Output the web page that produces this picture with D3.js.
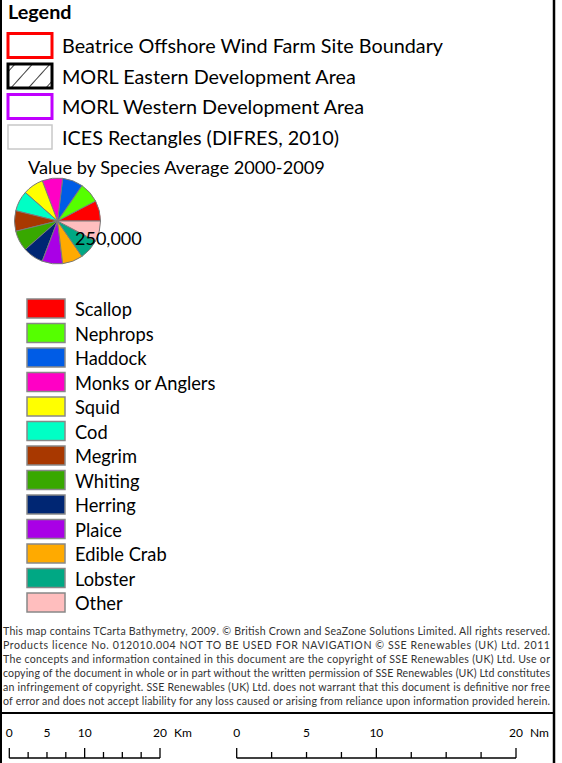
<!DOCTYPE html>
<html><head><meta charset="utf-8">
<script src="https://cdn.jsdelivr.net/npm/d3@7"></script>
<style>body{margin:0;background:#fff}svg{display:block}</style>
</head><body>
<svg id="c" width="562" height="763"></svg>
<script>
// ---- data ----
const legendTitle = "Legend";
const layerLabels = [
  "Beatrice Offshore Wind Farm Site Boundary",
  "MORL Eastern Development Area",
  "MORL Western Development Area",
  "ICES Rectangles (DIFRES, 2010)"
];
const pieTitle = "Value by Species Average 2000-2009";
const pieSizeLabel = "250,000";
const species = ["Scallop","Nephrops","Haddock","Monks or Anglers","Squid","Cod","Megrim","Whiting","Herring","Plaice","Edible Crab","Lobster","Other"];
const speciesShare = [1,1,1,1,1,1,1,1,1,1,1,1,1];
const speciesColors = ["#ff0000","#55ff00","#005ce6","#ff00c5","#ffff00","#00ffc5","#a83800","#38a800","#002673","#a900e6","#ffaa00","#00a884","#ffbebe"];
const scaleTicks = [0,2.5,5,7.5,10,12.5,15,17.5,20];
const scaleLabels = [0,5,10,20];
const scaleUnits = ["Km","Nm"];
const disclaimerLines = [
  "This map contains TCarta Bathymetry, 2009. \u00a9 British Crown and SeaZone Solutions Limited. All rights reserved.",
  "Products licence No. 012010.004 NOT TO BE USED FOR NAVIGATION \u00a9 SSE Renewables (UK) Ltd. 2011",
  "The concepts and information contained in this document are the copyright of SSE Renewables (UK) Ltd.  Use or",
  "copying of the document in whole or in part without the written permission of SSE Renewables (UK) Ltd constitutes",
  "an infringement of copyright.  SSE Renewables (UK) Ltd. does not warrant that this document is definitive nor free",
  "of error and does not accept liability for any loss caused or arising from reliance upon information provided herein."
];

// ---- drawing ----
const FONT = "Lato, 'Open Sans', sans-serif";
const svg = d3.select("#c");
svg.append("rect").attr("width",562).attr("height",763).attr("fill","#fff");

const defs = svg.append("defs");
const pat = defs.append("pattern").attr("id","hatch").attr("patternUnits","userSpaceOnUse")
  .attr("width",13).attr("height",13).attr("patternTransform","translate(2,0) rotate(42)");
pat.append("rect").attr("width",13).attr("height",13).attr("fill","#fff");
pat.append("line").attr("x1",0).attr("y1",0).attr("x2",0).attr("y2",13).attr("stroke","#000").attr("stroke-width",1.5);

// frame
svg.append("line").attr("x1",1).attr("x2",1).attr("y1",0).attr("y2",763).attr("stroke","#000").attr("stroke-width",2);
svg.append("line").attr("x1",554).attr("x2",554).attr("y1",0).attr("y2",763).attr("stroke","#000").attr("stroke-width",2.5);
svg.append("line").attr("x1",0).attr("x2",555).attr("y1",713).attr("y2",713).attr("stroke","#000").attr("stroke-width",2);

svg.append("text").attr("x",8).attr("y",19).attr("font-family",FONT).attr("font-weight","bold")
  .attr("font-size",19.8).attr("fill","#000").text(legendTitle);

const layerStroke = ["#ff0000","#000000","#c000ff","#c8c8c8"];
const layerWidth = [3,3,3,1.5];
const layerFill = ["#fff","url(#hatch)","#fff","#fff"];
const yLayer = d3.scalePoint().domain(d3.range(layerLabels.length)).range([45.5,137]);
layerLabels.forEach((lab,i)=>{
  const cy = yLayer(i);
  svg.append("rect").attr("x",8).attr("y",cy-12).attr("width",44).attr("height",24)
    .attr("fill",layerFill[i]).attr("stroke",layerStroke[i]).attr("stroke-width",layerWidth[i]);
  svg.append("text").attr("x",62).attr("y",cy+7.5).attr("font-family",FONT).attr("font-size",19.8)
    .attr("fill","#000").text(lab);
});

svg.append("text").attr("x",28).attr("y",174).attr("font-family",FONT).attr("font-size",18.2)
  .attr("fill","#000").text(pieTitle);

const color = d3.scaleOrdinal().domain(species).range(speciesColors);
const pie = d3.pie().sort(null).value(d=>d.v).startAngle(Math.PI/2).endAngle(Math.PI/2-2*Math.PI);
const arc = d3.arc().innerRadius(0).outerRadius(43);
const pg = svg.append("g").attr("transform","translate(57.5,221)");
pg.selectAll("path").data(pie(species.map((s,i)=>({s,v:speciesShare[i]})))).join("path")
  .attr("d",arc).attr("fill",d=>color(d.data.s)).attr("stroke","#7a7a7a").attr("stroke-width",1);
svg.append("text").attr("x",75).attr("y",245).attr("font-family",FONT).attr("font-size",18)
  .attr("fill","#000").text(pieSizeLabel);

const yS = d3.scaleBand().domain(species).range([297,297+24.5*species.length]);
species.forEach(s=>{
  const y = yS(s);
  svg.append("rect").attr("x",27).attr("y",y+2).attr("width",38).attr("height",19)
    .attr("fill",color(s)).attr("stroke","#888").attr("stroke-width",1.5);
  svg.append("text").attr("x",75).attr("y",y+19).attr("font-family",FONT).attr("font-size",18.3)
    .attr("fill","#000").text(s);
});

disclaimerLines.forEach((l,i)=>{
  svg.append("text").attr("x",3).attr("y",635+i*14).attr("font-family",FONT).attr("font-size",10.6)
    .attr("fill","#333").attr("textLength",547).attr("lengthAdjust","spacing").text(l);
});

// scale bars
const scales = [d3.scaleLinear().domain([0,20]).range([9.3,160]), d3.scaleLinear().domain([0,20]).range([236.7,516])];
scales.forEach((sc,k)=>{
  const g = svg.append("g");
  g.append("line").attr("x1",sc(0)).attr("x2",sc(20)).attr("y1",758).attr("y2",758).attr("stroke","#000").attr("stroke-width",1.3);
  g.selectAll("line.t").data(scaleTicks).join("line").attr("class","t")
    .attr("x1",d=>sc(d)).attr("x2",d=>sc(d)).attr("y1",758)
    .attr("y2",d=>d%10===0?748:752).attr("stroke","#000").attr("stroke-width",1.3);
  g.selectAll("text.l").data(scaleLabels).join("text").attr("class","l")
    .attr("x",d=>sc(d)).attr("y",737).attr("text-anchor","middle").attr("font-family",FONT)
    .attr("font-size",12).attr("fill","#000").text(d=>d);
  g.append("text").attr("x",sc(20)+14).attr("y",737).attr("font-family",FONT).attr("font-size",12)
    .attr("fill","#000").text(scaleUnits[k]);
});
</script>
</body></html>
